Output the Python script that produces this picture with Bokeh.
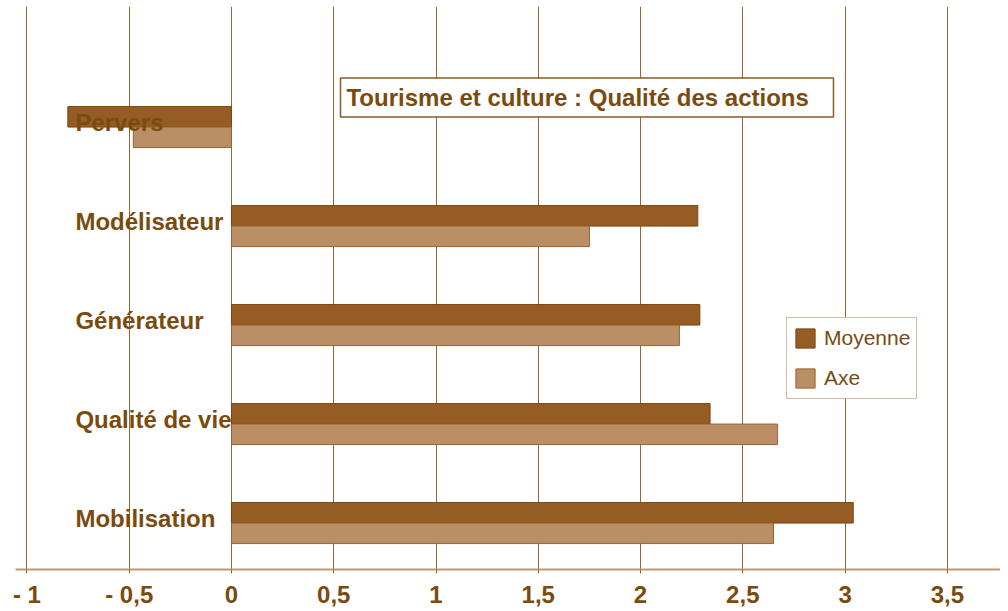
from bokeh.plotting import figure
from bokeh.models import ColumnDataSource, Range1d, FixedTicker, Label, Legend, LegendItem
from bokeh.core.properties import value
from bokeh.transform import dodge
from bokeh.embed import file_html
from bokeh.resources import INLINE

# ---- data ----
categories = ["Pervers", "Modélisateur", "Générateur", "Qualité de vie", "Mobilisation"]
moyenne = [-0.80, 2.28, 2.29, 2.34, 3.04]
axe = [-0.48, 1.75, 2.19, 2.67, 2.65]
tick_values = [-1, -0.5, 0, 0.5, 1, 1.5, 2, 2.5, 3, 3.5]
tick_labels = ["- 1", "- 0,5", "0", "0,5", "1", "1,5", "2", "2,5", "3", "3,5"]
series_names = ["Moyenne", "Axe"]
title_text = "Tourisme et culture  : Qualité des actions"

# ---- styles ----
BROWN_TEXT = "#7b4a0e"
C_MOY = "#955d24"
C_MOY_LINE = "#7a4510"
C_AXE = "#bb8f65"
C_AXE_LINE = "#9a6330"
GRID = "#9a6530"
FONT = "Liberation Sans"
BAR_H = 0.207

pos = list(range(len(categories)))
src = ColumnDataSource(dict(cat=categories, pos=pos, moyenne=moyenne, axe=axe))

p = figure(frame_width=985, frame_height=563,
           x_range=Range1d(-1.056, 3.76), y_range=Range1d(4.469, -1.218),
           output_backend="svg", toolbar_location=None, y_axis_location=None,
           min_border_left=15, min_border_right=0, min_border_top=6, min_border_bottom=0,
           outline_line_color=None, background_fill_color="white", border_fill_color="white")

p.ygrid.visible = False
p.xgrid.ticker = FixedTicker(ticks=tick_values)
p.xgrid.grid_line_color = GRID
p.xgrid.grid_line_width = 1

r1 = p.hbar(y=dodge("pos", -BAR_H / 2), left=0, right="moyenne", height=BAR_H, source=src,
            fill_color=C_MOY, line_color=C_MOY_LINE, line_width=1)
r2 = p.hbar(y=dodge("pos", BAR_H / 2), left=0, right="axe", height=BAR_H, source=src,
            fill_color=C_AXE, line_color=C_AXE_LINE, line_width=1)

p.text(x=-0.763, y="pos", text="cat", source=src, y_offset=-5,
       text_font=value(FONT), text_font_size="24px", text_font_style="bold",
       text_color=BROWN_TEXT, text_align="left", text_baseline="middle")

ax = p.xaxis[0]
ax.ticker = FixedTicker(ticks=tick_values)
ax.major_label_overrides = {v: l for v, l in zip(tick_values, tick_labels)}
ax.axis_line_color = "#b89a78"
ax.axis_line_width = 2
ax.major_tick_line_color = GRID
ax.major_tick_out = 4
ax.major_tick_in = 0
ax.minor_tick_line_color = None
ax.major_label_text_font = FONT
ax.major_label_text_font_size = "24px"
ax.major_label_text_font_style = "bold"
ax.major_label_text_color = BROWN_TEXT
ax.major_label_standoff = 7

title = Label(x=0.533, y=-0.299, text=title_text, text_font=FONT, text_font_size="24px",
              text_font_style="bold", text_color=BROWN_TEXT, text_baseline="middle",
              text_align="left", border_line_color="#8b5a2b", border_line_width=1.5,
              background_fill_color="white", padding=(6, 18, 6, 6))
p.add_layout(title)

legend = Legend(items=[LegendItem(label=series_names[0], renderers=[r1]),
                       LegendItem(label=series_names[1], renderers=[r2])],
                location=(771, 170), glyph_width=24, glyph_height=24, label_height=28,
                label_standoff=7, spacing=12, padding=6, margin=0,
                label_text_font=FONT, label_text_font_size="21px", label_text_color=BROWN_TEXT,
                border_line_color="#a57a50", border_line_width=1.5,
                background_fill_color="white", background_fill_alpha=1)
p.add_layout(legend)

open("out.html", "w").write(file_html(p, INLINE))
